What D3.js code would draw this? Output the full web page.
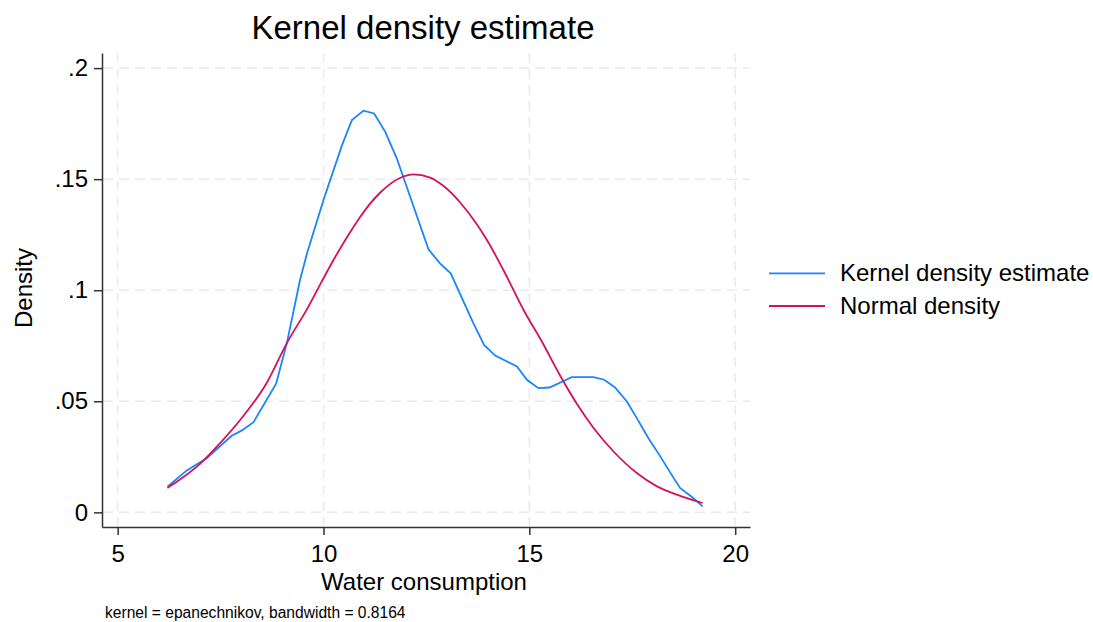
<!DOCTYPE html>
<html>
<head>
<meta charset="utf-8">
<script src="https://cdn.jsdelivr.net/npm/d3@7"></script>
<style>
  body { margin: 0; background: #fff; }
  svg text { font-family: "Liberation Sans", Arial, sans-serif; fill: #000; }
</style>
</head>
<body>
<div id="chart"></div>
<script>
// kernel density estimate
const kdeX = [6.21, 6.68, 7.17, 7.77, 8.02, 8.30, 8.85, 9.11, 9.43, 9.60, 10.00, 10.45, 10.69, 10.89, 10.97,
  11.23, 11.50, 11.78, 12.55, 12.83, 13.09, 13.64, 13.90, 14.17, 14.70, 14.94, 15.22, 15.49, 16.03, 16.56,
  16.82, 17.08, 17.37, 17.61, 17.89, 18.18, 18.42, 18.66, 18.95, 19.21];
const kdeY = [0.0115, 0.0189, 0.0245, 0.0345, 0.0369, 0.0406, 0.0579, 0.0762, 0.1046, 0.1166, 0.1406, 0.1653, 0.1766, 0.1796, 0.1808,
  0.1796, 0.1713, 0.1594, 0.1184, 0.1121, 0.1076, 0.0852, 0.0754, 0.0706, 0.0657, 0.0597, 0.0559, 0.0562, 0.0609, 0.0609,
  0.0597, 0.0562, 0.0499, 0.0424, 0.0335, 0.0252, 0.0180, 0.0110, 0.0069, 0.0027];

// normal density, points
const normX = [6.21, 6.48, 7.00, 7.49, 7.98, 8.62, 9.11, 9.60, 9.96, 10.24, 10.65, 10.89, 11.38, 11.94, 12.18,
  12.59, 12.91, 13.32, 13.72, 13.97, 14.37, 14.86, 15.30, 15.75, 16.15, 16.56, 17.04, 17.61, 18.10, 18.58, 19.21];
const normY = [0.0110, 0.0143, 0.0218, 0.0312, 0.0417, 0.0582, 0.0762, 0.0915, 0.1040, 0.1135, 0.1262, 0.1330, 0.1440, 0.1512, 0.1522,
  0.1507, 0.1470, 0.1395, 0.1298, 0.1226, 0.1091, 0.0911, 0.0770, 0.0615, 0.0490, 0.0380, 0.0275, 0.0177, 0.0117, 0.0080, 0.0042];

const xTicks = [5, 10, 15, 20];
const yTicks = [0, 0.05, 0.1, 0.15, 0.2];
const yTickLabels = ['0', '.05', '.1', '.15', '.2'];
const seriesNames = ['Kernel density estimate', 'Normal density'];
const seriesColors = ['#1a85ff', '#d41159'];

const width = 1093, height = 622;
const m = { left: 102, right: 750, top: 53, bottom: 527 };

const svg = d3.select('#chart').append('svg')
  .attr('width', width)
  .attr('height', height);

const x = d3.scaleLinear().domain([4.62, 20.36]).range([m.left, m.right]);
const y = d3.scaleLinear().domain([-0.0066, 0.2068]).range([m.bottom, m.top]);

// grid
svg.append('g').selectAll('line')
  .data(yTicks)
  .join('line')
  .attr('x1', m.left + 1).attr('x2', m.right)
  .attr('y1', d => y(d)).attr('y2', d => y(d))
  .attr('stroke', '#eaeaea').attr('stroke-width', 1.5)
  .style('stroke-dasharray', '10,6');
svg.append('g').selectAll('line')
  .data(xTicks)
  .join('line')
  .attr('x1', d => x(d)).attr('x2', d => x(d))
  .attr('y1', m.top).attr('y2', m.bottom - 1)
  .attr('stroke', '#eaeaea').attr('stroke-width', 1.5)
  .style('stroke-dasharray', '10,6');

// axes
const xAxis = svg.append('g')
  .attr('transform', `translate(0,${m.bottom})`)
  .call(d3.axisBottom(x).tickValues(xTicks).tickSize(8).tickPadding(10).tickSizeOuter(0));
const yAxis = svg.append('g')
  .attr('transform', `translate(${m.left},0)`)
  .call(d3.axisLeft(y).tickValues(yTicks).tickSize(8).tickPadding(6).tickSizeOuter(0)
    .tickFormat((d, i) => yTickLabels[i]));
[xAxis, yAxis].forEach(a => {
  a.select('.domain').attr('stroke', '#333').attr('stroke-width', 1.5);
  a.selectAll('.tick line').attr('stroke', '#333').attr('stroke-width', 1.5);
  a.selectAll('.tick text')
    .style('font-size', '24px')
    .style('font-family', '"Liberation Sans", Arial, sans-serif')
    .attr('fill', '#000');
});

// curves
const kdeLine = d3.line().x(d => x(d[0])).y(d => y(d[1]));
const normLine = d3.line().x(d => x(d[0])).y(d => y(d[1])).curve(d3.curveMonotoneX);
const kde = kdeX.map((v, i) => [v, kdeY[i]]);
const norm = normX.map((v, i) => [v, normY[i]]);
svg.append('path')
  .datum(kde)
  .attr('d', kdeLine)
  .attr('fill', 'none')
  .attr('stroke', seriesColors[0])
  .attr('stroke-width', 1.8);
svg.append('path')
  .datum(norm)
  .attr('d', normLine)
  .attr('fill', 'none')
  .attr('stroke', seriesColors[1])
  .attr('stroke-width', 1.8);

// titles
svg.append('text')
  .attr('x', 423)
  .attr('y', 39)
  .text('Kernel density estimate')
  .style('font-size', '33px')
  .style('text-anchor', 'middle');
svg.append('text')
  .attr('x', 424)
  .attr('y', 590)
  .text('Water consumption')
  .style('font-size', '24px')
  .style('text-anchor', 'middle');
svg.append('text')
  .attr('transform', `translate(32,288) rotate(-90)`)
  .text('Density')
  .style('font-size', '24px')
  .style('text-anchor', 'middle');
svg.append('text')
  .attr('x', 105)
  .attr('y', 618)
  .text('kernel = epanechnikov, bandwidth = 0.8164')
  .style('font-size', '15.6px');

// legend
const legend = svg.append('g').selectAll('g')
  .data(seriesNames)
  .join('g')
  .attr('transform', (d, i) => `translate(769,${273.3 + i * 32.7})`);
legend.append('line')
  .attr('x1', 0).attr('x2', 56)
  .attr('stroke', (d, i) => seriesColors[i])
  .attr('stroke-width', 1.8);
legend.append('text')
  .attr('x', 71)
  .attr('y', 8)
  .text(d => d)
  .style('font-size', '24px');
</script>
</body>
</html>
